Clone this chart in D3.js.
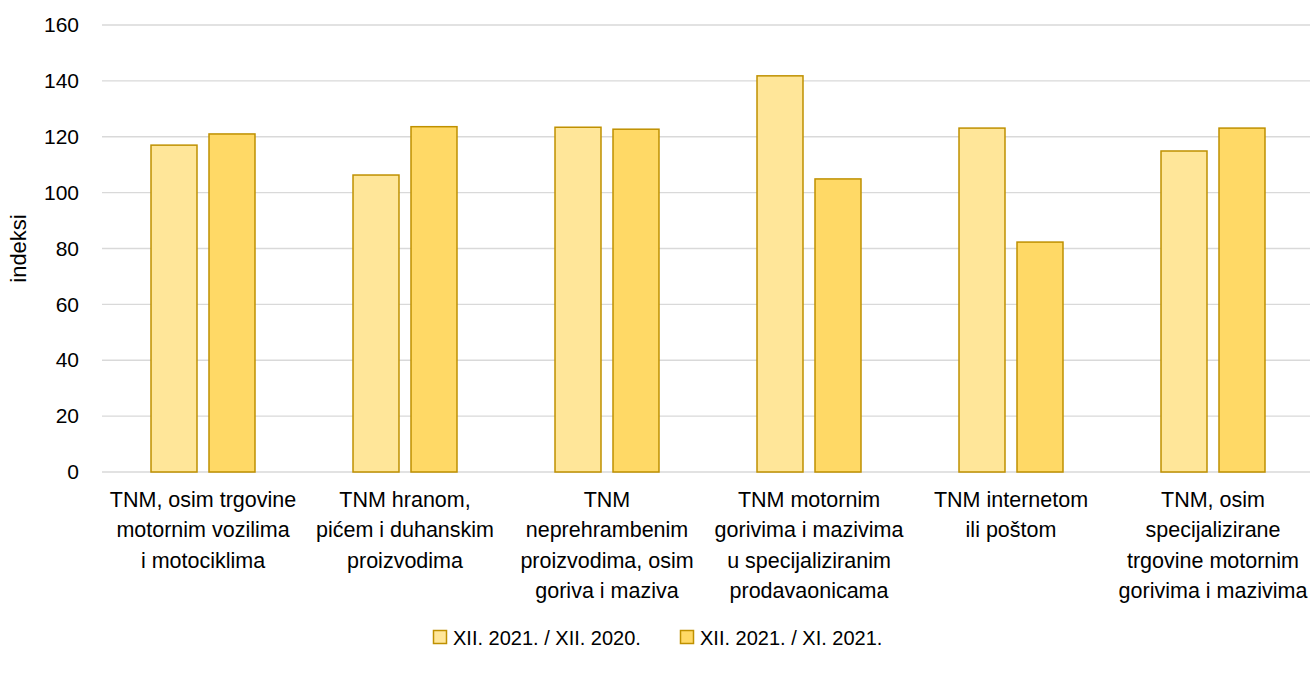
<!DOCTYPE html>
<html>
<head>
<meta charset="utf-8">
<script src="https://cdn.jsdelivr.net/npm/d3@7"></script>
<style>
  body { margin: 0; background: #fff; overflow: hidden; }
  svg text { font-family: "Liberation Sans", Arial, sans-serif; fill: #000; }
</style>
</head>
<body>
<svg id="chart"></svg>
<script>
// Chart data
const categories = [
  ["TNM, osim trgovine", "motornim vozilima", "i motociklima"],
  ["TNM hranom,", "pićem i duhanskim", "proizvodima"],
  ["TNM", "neprehrambenim", "proizvodima, osim", "goriva i maziva"],
  ["TNM motornim", "gorivima i mazivima", "u specijaliziranim", "prodavaonicama"],
  ["TNM internetom", "ili poštom"],
  ["TNM, osim", "specijalizirane", "trgovine motornim", "gorivima i mazivima"]
];
const seriesNames = ["XII. 2021. / XII. 2020.", "XII. 2021. / XI. 2021."];
const valuesYoY = [117.0, 106.3, 123.4, 141.8, 123.1, 114.9];
const valuesMoM = [121.0, 123.6, 122.7, 104.9, 82.3, 123.1];
const yTicks = [0, 20, 40, 60, 80, 100, 120, 140, 160];

const colors = ["#FFE699", "#FFD966"];
const strokeColor = "#BF9000";

const width = 1310;
const height = 673;
const margin = { top: 25, right: -4, bottom: 201, left: 102 };

const svg = d3.select("#chart")
    .attr("width", width)
    .attr("height", height);

const rows = categories.map((c, i) => ({ idx: i, vals: [valuesYoY[i], valuesMoM[i]] }));

// Scales
const x0 = d3.scaleBand()
    .domain(d3.range(categories.length))
    .range([margin.left, width - margin.right]);

const x1 = d3.scaleBand()
    .domain([0, 1])
    .range([0, x0.bandwidth()])
    .paddingInner(0.207)
    .paddingOuter(0.845);

const y = d3.scaleLinear()
    .domain([0, 160])
    .range([height - margin.bottom, margin.top]);

// Gridlines
svg.append("g")
    .selectAll("line")
    .data(yTicks)
    .enter()
    .append("line")
    .attr("x1", margin.left)
    .attr("x2", width - margin.right)
    .attr("y1", d => y(d))
    .attr("y2", d => y(d))
    .attr("stroke", "#D9D9D9")
    .attr("stroke-width", 1.3);

// Y axis labels
const yAxis = d3.axisLeft(y).tickValues(yTicks).tickSize(0).tickPadding(0);
const gy = svg.append("g")
    .attr("transform", `translate(79, 0)`)
    .call(yAxis);
gy.select(".domain").remove();
gy.selectAll("text")
    .style("font-family", "Liberation Sans, Arial, sans-serif")
    .style("font-size", "21px")
    .attr("fill", "#000");

// Y axis title
svg.append("text")
    .attr("transform", `translate(26, ${(y(0) + y(160)) / 2}) rotate(-90)`)
    .attr("text-anchor", "middle")
    .style("font-size", "22px")
    .text("indeksi");

// Bars
const groups = svg.append("g")
    .selectAll("g")
    .data(rows)
    .enter()
    .append("g")
    .attr("transform", d => `translate(${x0(d.idx)}, 0)`);

groups.selectAll("rect")
    .data(d => d.vals.map((v, s) => ({ s, v })))
    .enter()
    .append("rect")
    .attr("x", d => x1(d.s))
    .attr("y", d => y(d.v))
    .attr("width", x1.bandwidth())
    .attr("height", d => y(0) - y(d.v))
    .attr("fill", d => colors[d.s])
    .attr("stroke", strokeColor)
    .attr("stroke-width", 1.5);

// Category labels
const labels = svg.append("g")
    .selectAll("text")
    .data(categories)
    .enter()
    .append("text")
    .attr("x", (d, i) => x0(i) + x0.bandwidth() / 2)
    .attr("y", 507)
    .attr("text-anchor", "middle")
    .style("font-size", "21.5px");

labels.selectAll("tspan")
    .data(d => d)
    .enter()
    .append("tspan")
    .attr("x", function () { return d3.select(this.parentNode).attr("x"); })
    .attr("dy", (d, i) => i === 0 ? 0 : 30.3)
    .text(d => d);

// Legend
const legendX = [433, 680];
const legend = svg.append("g")
    .selectAll("g")
    .data(seriesNames)
    .enter()
    .append("g")
    .attr("transform", (d, i) => `translate(${legendX[i]}, 637)`);

legend.append("rect")
    .attr("x", 0.5)
    .attr("y", -6.5)
    .attr("width", 13)
    .attr("height", 13)
    .attr("fill", (d, i) => colors[i])
    .attr("stroke", strokeColor)
    .attr("stroke-width", 1.5);

legend.append("text")
    .attr("x", 20)
    .attr("y", 7.5)
    .style("font-size", "20px")
    .text(d => d);
</script>
</body>
</html>
